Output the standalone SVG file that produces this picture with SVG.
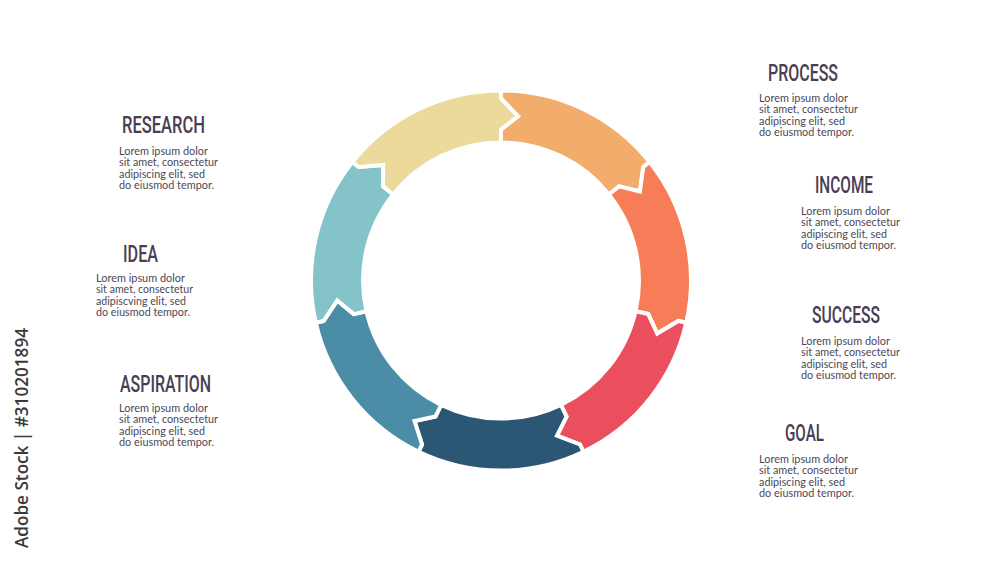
<svg xmlns="http://www.w3.org/2000/svg" xmlns:xlink="http://www.w3.org/1999/xlink" width="1000" height="563" viewBox="0 0 1000 563">
<style>
.seg{stroke:#ffffff;stroke-width:4;stroke-linejoin:miter}
.title{font-family:Roboto,"Liberation Sans",sans-serif;font-size:24px;font-weight:500;fill:#4a3d52}
.body{font-family:Lato,"Open Sans","Liberation Sans",sans-serif;font-size:11.5px;fill:#4d4755}
.wm{font-family:"Open Sans","Liberation Sans",sans-serif;font-size:18px;font-weight:600;fill:#3a3a3a}
</style>
<defs>
<path id="seg" class="seg" d="M501,90.5 A190,190 0 0 1 649.548,162.037 L643.293,167.025 L639.876,191.401 L619.056,186.353 L608.893,194.458 A138,138 0 0 0 501,142.5 L501,129.5 L517.961,116.374 L501,98.5 Z"/>
</defs>
<rect width="1000" height="563" fill="#ffffff"/>

<g id="ring">
<g id="seg-1"><use href="#seg" xlink:href="#seg" fill="#F2AD6C"/></g>
<g id="seg-2"><use href="#seg" xlink:href="#seg" fill="#F77D58" transform="rotate(51.4286 501 280.5)"/></g>
<g id="seg-3"><use href="#seg" xlink:href="#seg" fill="#EB4F5E" transform="rotate(102.8571 501 280.5)"/></g>
<g id="seg-4"><use href="#seg" xlink:href="#seg" fill="#2B5775" transform="rotate(154.2857 501 280.5)"/></g>
<g id="seg-5"><use href="#seg" xlink:href="#seg" fill="#4B8DA7" transform="rotate(205.7143 501 280.5)"/></g>
<g id="seg-6"><use href="#seg" xlink:href="#seg" fill="#84C3C8" transform="rotate(257.1429 501 280.5)"/></g>
<g id="seg-7"><use href="#seg" xlink:href="#seg" fill="#EBDA9B" transform="rotate(308.5714 501 280.5)"/></g>
</g>

<g id="connectors"></g>

<g id="label-process">
<text class="title" x="768" y="81" textLength="70" lengthAdjust="spacingAndGlyphs">PROCESS</text>
<text class="body" x="759" y="102" textLength="89" lengthAdjust="spacingAndGlyphs">Lorem ipsum dolor</text>
<text class="body" x="759" y="113.3" textLength="99" lengthAdjust="spacingAndGlyphs">sit amet, consectetur</text>
<text class="body" x="759" y="124.6" textLength="86" lengthAdjust="spacingAndGlyphs">adipiscing elit, sed</text>
<text class="body" x="759" y="135.9" textLength="95" lengthAdjust="spacingAndGlyphs">do eiusmod tempor.</text>
</g>

<g id="label-income">
<text class="title" x="815" y="193" textLength="58" lengthAdjust="spacingAndGlyphs">INCOME</text>
<text class="body" x="801" y="215" textLength="89" lengthAdjust="spacingAndGlyphs">Lorem ipsum dolor</text>
<text class="body" x="801" y="226.3" textLength="99" lengthAdjust="spacingAndGlyphs">sit amet, consectetur</text>
<text class="body" x="801" y="237.6" textLength="86" lengthAdjust="spacingAndGlyphs">adipiscing elit, sed</text>
<text class="body" x="801" y="248.9" textLength="95" lengthAdjust="spacingAndGlyphs">do eiusmod tempor.</text>
</g>

<g id="label-success">
<text class="title" x="812" y="323" textLength="68" lengthAdjust="spacingAndGlyphs">SUCCESS</text>
<text class="body" x="801" y="345" textLength="89" lengthAdjust="spacingAndGlyphs">Lorem ipsum dolor</text>
<text class="body" x="801" y="356.3" textLength="99" lengthAdjust="spacingAndGlyphs">sit amet, consectetur</text>
<text class="body" x="801" y="367.6" textLength="86" lengthAdjust="spacingAndGlyphs">adipiscing elit, sed</text>
<text class="body" x="801" y="378.9" textLength="95" lengthAdjust="spacingAndGlyphs">do eiusmod tempor.</text>
</g>

<g id="label-goal">
<text class="title" x="785" y="441" textLength="39" lengthAdjust="spacingAndGlyphs">GOAL</text>
<text class="body" x="759" y="463" textLength="89" lengthAdjust="spacingAndGlyphs">Lorem ipsum dolor</text>
<text class="body" x="759" y="474.3" textLength="99" lengthAdjust="spacingAndGlyphs">sit amet, consectetur</text>
<text class="body" x="759" y="485.6" textLength="86" lengthAdjust="spacingAndGlyphs">adipiscing elit, sed</text>
<text class="body" x="759" y="496.9" textLength="95" lengthAdjust="spacingAndGlyphs">do eiusmod tempor.</text>
</g>

<g id="label-research">
<text class="title" x="122" y="133" textLength="83" lengthAdjust="spacingAndGlyphs">RESEARCH</text>
<text class="body" x="119" y="155" textLength="89" lengthAdjust="spacingAndGlyphs">Lorem ipsum dolor</text>
<text class="body" x="119" y="166.3" textLength="99" lengthAdjust="spacingAndGlyphs">sit amet, consectetur</text>
<text class="body" x="119" y="177.6" textLength="86" lengthAdjust="spacingAndGlyphs">adipiscing elit, sed</text>
<text class="body" x="119" y="188.9" textLength="95" lengthAdjust="spacingAndGlyphs">do eiusmod tempor.</text>
</g>

<g id="label-idea">
<text class="title" x="123" y="262" textLength="35" lengthAdjust="spacingAndGlyphs">IDEA</text>
<text class="body" x="96" y="282" textLength="89" lengthAdjust="spacingAndGlyphs">Lorem ipsum dolor</text>
<text class="body" x="96" y="293.3" textLength="97" lengthAdjust="spacingAndGlyphs">sit amet, consectetur</text>
<text class="body" x="96" y="304.6" textLength="90" lengthAdjust="spacingAndGlyphs">adipiscving elit, sed</text>
<text class="body" x="96" y="315.9" textLength="94" lengthAdjust="spacingAndGlyphs">do eiusmod tempor.</text>
</g>

<g id="label-aspiration">
<text class="title" x="120" y="392" textLength="91" lengthAdjust="spacingAndGlyphs">ASPIRATION</text>
<text class="body" x="119" y="412" textLength="89" lengthAdjust="spacingAndGlyphs">Lorem ipsum dolor</text>
<text class="body" x="119" y="423.3" textLength="99" lengthAdjust="spacingAndGlyphs">sit amet, consectetur</text>
<text class="body" x="119" y="434.6" textLength="86" lengthAdjust="spacingAndGlyphs">adipiscing elit, sed</text>
<text class="body" x="119" y="445.9" textLength="95" lengthAdjust="spacingAndGlyphs">do eiusmod tempor.</text>
</g>

<g id="watermark">
<text class="wm" transform="translate(28 548) rotate(-90)" textLength="220" lengthAdjust="spacingAndGlyphs">Adobe Stock | #310201894</text>
</g>
</svg>
